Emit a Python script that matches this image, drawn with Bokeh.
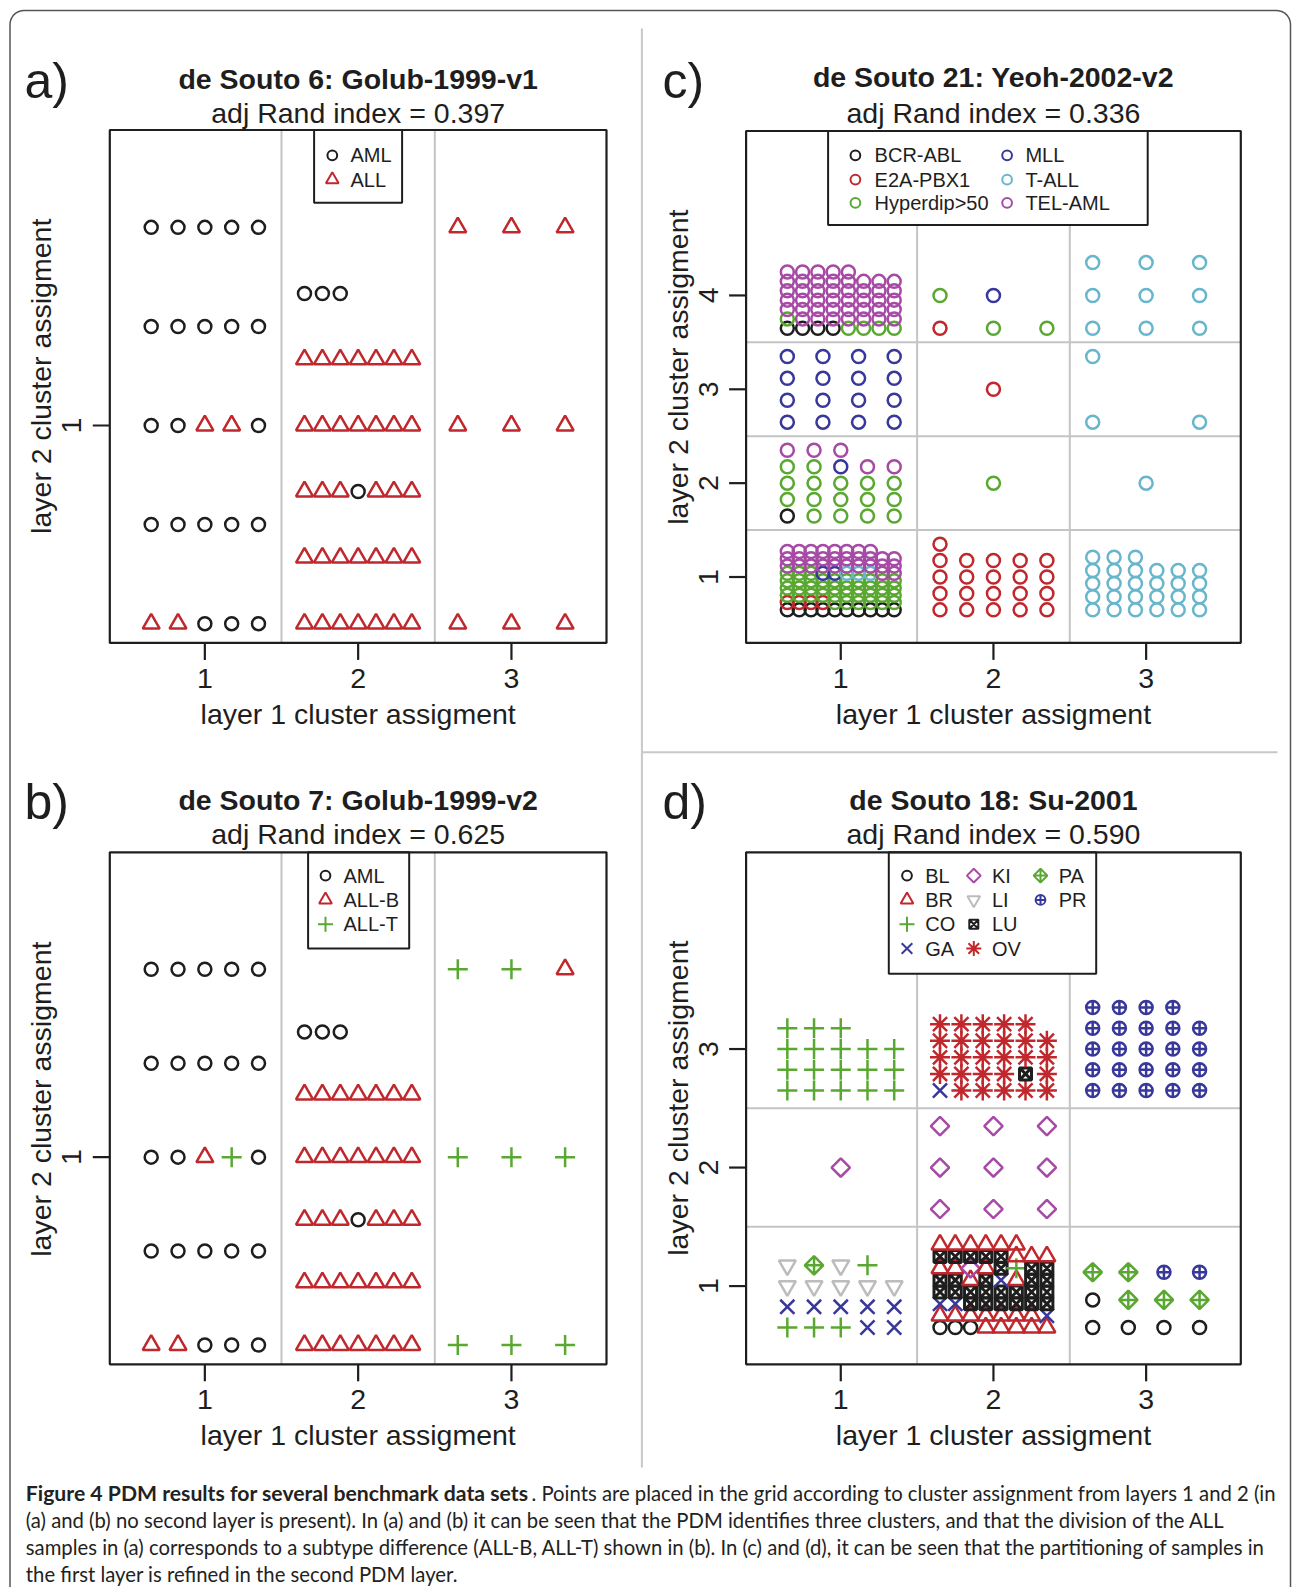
import math
from bokeh.plotting import figure
from bokeh.models import Range1d, ColumnDataSource
from bokeh.core.properties import value
from bokeh.embed import file_html
from bokeh.resources import INLINE

# ---------------- data ----------------
# each cell: (layer-1 cluster, layer-2 cluster, runs of samples in plotting order)
a_title = "de Souto 6: Golub-1999-v1"
a_ari = "adj Rand index = 0.397"
a_classes = ["AML", "ALL"]
a_cells = [
    (1, 1, [("ALL", 2), ("AML", 10), ("ALL", 2), ("AML", 11)]),
    (2, 1, [("ALL", 17), ("AML", 1), ("ALL", 17), ("AML", 3)]),
    (3, 1, [("ALL", 9)]),
]

b_title = "de Souto 7: Golub-1999-v2"
b_ari = "adj Rand index = 0.625"
b_classes = ["AML", "ALL-B", "ALL-T"]
b_cells = [
    (1, 1, [("ALL-B", 2), ("AML", 10), ("ALL-B", 1), ("ALL-T", 1), ("AML", 11)]),
    (2, 1, [("ALL-B", 17), ("AML", 1), ("ALL-B", 17), ("AML", 3)]),
    (3, 1, [("ALL-T", 8), ("ALL-B", 1)]),
]

c_title = "de Souto 21: Yeoh-2002-v2"
c_ari = "adj Rand index = 0.336"
c_classes = ["BCR-ABL", "E2A-PBX1", "Hyperdip>50", "MLL", "T-ALL", "TEL-AML"]
c_cells = [
    (1, 1, [("BCR-ABL", 10), ("E2A-PBX1", 4), ("Hyperdip>50", 39), ("MLL", 2), ("T-ALL", 3), ("TEL-AML", 30)]),
    (2, 1, [("E2A-PBX1", 21)]),
    (3, 1, [("T-ALL", 27)]),
    (1, 2, [("BCR-ABL", 1), ("Hyperdip>50", 16), ("MLL", 1), ("TEL-AML", 5)]),
    (2, 2, [("Hyperdip>50", 1)]),
    (3, 2, [("T-ALL", 1)]),
    (1, 3, [("MLL", 16)]),
    (2, 3, [("E2A-PBX1", 1)]),
    (3, 3, [("T-ALL", 3)]),
    (1, 4, [("BCR-ABL", 4), ("Hyperdip>50", 5), ("TEL-AML", 44)]),
    (2, 4, [("E2A-PBX1", 1), ("Hyperdip>50", 3), ("MLL", 1)]),
    (3, 4, [("T-ALL", 9)]),
]

d_title = "de Souto 18: Su-2001"
d_ari = "adj Rand index = 0.590"
d_classes = ["BL", "BR", "CO", "GA", "KI", "LI", "LU", "OV", "PA", "PR"]
d_cells = [
    (1, 1, [("CO", 3), ("GA", 7), ("LI", 6), ("PA", 1), ("LI", 1), ("CO", 1)]),
    (2, 1, [("BL", 3), ("BR", 12), ("GA", 3), ("LU", 16), ("BR", 1), ("LU", 1), ("GA", 1),
            ("BR", 1), ("LU", 2), ("BR", 2), ("KI", 1), ("BR", 1), ("LU", 1), ("CO", 1),
            ("LU", 7), ("BR", 9)]),
    (3, 1, [("BL", 5), ("PA", 5), ("PR", 2)]),
    (1, 2, [("KI", 1)]),
    (2, 2, [("KI", 9)]),
    (1, 3, [("CO", 18)]),
    (2, 3, [("GA", 1), ("OV", 9), ("LU", 1), ("OV", 18)]),
    (3, 3, [("PR", 24)]),
]

x_ticks = [1, 2, 3]
a_yticks = [1]
b_yticks = [1]
c_yticks = [1, 2, 3, 4]
d_yticks = [1, 2, 3]

caption_bold = "Figure 4 PDM results for several benchmark data sets"
caption_lines = [
    ". Points are placed in the grid according to cluster assignment from layers 1 and 2 (in",
    "(a) and (b) no second layer is present). In (a) and (b) it can be seen that the PDM identifies three clusters, and that the division of the ALL",
    "samples in (a) corresponds to a subtype difference (ALL-B, ALL-T) shown in (b). In (c) and (d), it can be seen that the partitioning of samples in",
    "the first layer is refined in the second PDM layer.",
]

# ---------------- styles ----------------
BLACK = "#1e1e1e"
RED = "#c0282d"
GREEN = "#5aa832"
BLUE = "#38389a"
CYAN = "#68b6cc"
MAGENTA = "#a64aa6"
GREY = "#bcbcbc"
Q = math.pi / 4
# class -> (marker, colour, angle, size)
style_a = {"AML": ("circle", BLACK, 0, 13), "ALL": ("triangle", RED, 0, 17)}
style_b = {"AML": ("circle", BLACK, 0, 13), "ALL-B": ("triangle", RED, 0, 17),
           "ALL-T": ("cross", GREEN, 0, 20)}
style_c = {k: ("circle", col, 0, 13) for k, col in
           zip(c_classes, [BLACK, RED, GREEN, BLUE, CYAN, MAGENTA])}
style_d = {"BL": ("circle", BLACK, 0, 13), "BR": ("triangle", RED, 0, 17),
           "CO": ("cross", GREEN, 0, 20), "GA": ("x", BLUE, 0, 20),
           "KI": ("square", MAGENTA, Q, 13), "LI": ("inverted_triangle", GREY, 0, 17),
           "LU": ("square_x", BLACK, 0, 12), "OV": ("asterisk", RED, 0, 20),
           "PA": ("square_x", GREEN, Q, 13), "PR": ("circle_cross", BLUE, 0, 13)}

W, H = 1292, 1587
FONT = value("Liberation Sans")


def Y(py):
    return H - py


p = figure(width=W, height=H, x_range=Range1d(0, W), y_range=Range1d(0, H),
           output_backend="svg", toolbar_location=None, min_border=0,
           x_axis_location=None, y_axis_location=None,
           outline_line_color=None, background_fill_color="white",
           border_fill_color="white")
p.grid.visible = False

# panel geometry: box in page pixels (left, top, right, bottom) and data limits
panels = {
    "a": dict(box=(109.3, 129.5, 606.0, 642.4), ylim=(0.616, 1.522), cells=a_cells,
              style=style_a, yticks=a_yticks, title=a_title, ari=a_ari, tag="a)",
              ttl=(78.9, 112.3), lab=(24, 80), ylab=(40.5, 375.8), grid_y=[],
              legend=dict(box=(313.6, 129.5, 401.6, 202.3), classes=a_classes, nrow=2,
                          cols=[(331.8, 350)], rows=[154.8, 179.1])),
    "b": dict(box=(109.3, 851.8, 606.0, 1363.8), ylim=(0.614, 1.568), cells=b_cells,
              style=style_b, yticks=b_yticks, title=b_title, ari=b_ari, tag="b)",
              ttl=(799.2, 833.6), lab=(24, 801), ylab=(40.5, 1098.7), grid_y=[],
              legend=dict(box=(307.6, 851.8, 408.7, 948.0), classes=b_classes, nrow=3,
                          cols=[(325.0, 343)], rows=[875.1, 899.4, 923.7])),
    "c": dict(box=(745.6, 130.5, 1240.3, 642.4), ylim=(0.298, 5.752), cells=c_cells,
              style=style_c, yticks=c_yticks, title=c_title, ari=c_ari, tag="c)",
              ttl=(76.9, 112.3), lab=(662, 80), ylab=(677.8, 366.7), grid_y=[1.5, 2.5, 3.5],
              legend=dict(box=(827.6, 130.5, 1147.2, 224.6), classes=c_classes, nrow=3,
                          cols=[(854.9, 874.1), (1006.6, 1024.9)],
                          rows=[154.8, 179.1, 202.3])),
    "d": dict(box=(745.6, 851.8, 1240.3, 1363.8), ylim=(0.34, 4.66), cells=d_cells,
              style=style_d, yticks=d_yticks, title=d_title, ari=d_ari, tag="d)",
              ttl=(799.2, 833.6), lab=(662, 801), ylab=(677.8, 1097.7), grid_y=[1.5, 2.5],
              legend=dict(box=(888.3, 851.8, 1095.7, 973.3), classes=d_classes, nrow=4,
                          cols=[(906.5, 924.7), (973.3, 991.5), (1040.0, 1058.2)],
                          rows=[875.1, 899.4, 923.7, 948.0])),
}
XLIM = (0.38, 3.62)
JIT = 0.35


def layout(cx, cy, runs):
    seq = [cls for cls, n in runs for _ in range(n)]
    k = math.ceil(math.sqrt(len(seq)))
    if k == 1:
        return [(cx, cy, seq[0])]
    step = 2 * JIT / (k - 1)
    out = []
    for i, cls in enumerate(seq):
        r, c = divmod(i, k)
        out.append((cx - JIT + c * step, cy - JIT + r * step, cls))
    return out


for key, g in panels.items():
    L, T, R, B = g["box"]
    x0, x1 = XLIM
    y0, y1 = g["ylim"]
    sx = (x1 - x0) / (R - L)
    sy = (y1 - y0) / (B - T)
    xr, yr = "x" + key, "y" + key
    p.extra_x_ranges[xr] = Range1d(x0 - L * sx, x0 + (W - L) * sx)
    p.extra_y_ranges[yr] = Range1d(y0 + (B - H) * sy, y0 + B * sy)

    # cell grid lines
    p.segment(x0=[1.5, 2.5], x1=[1.5, 2.5], y0=[y0, y0], y1=[y1, y1],
              x_range_name=xr, y_range_name=yr, line_color="#c4c4c4", line_width=2)
    if g["grid_y"]:
        n = len(g["grid_y"])
        p.segment(x0=[x0] * n, x1=[x1] * n, y0=g["grid_y"], y1=g["grid_y"],
                  x_range_name=xr, y_range_name=yr, line_color="#c4c4c4", line_width=2)

    # points
    pts = []
    for cx, cy, runs in g["cells"]:
        pts += layout(cx, cy, runs)
    st = g["style"]
    src = ColumnDataSource(dict(
        x=[q[0] for q in pts], y=[q[1] for q in pts],
        marker=[st[q[2]][0] for q in pts], color=[st[q[2]][1] for q in pts],
        angle=[st[q[2]][2] for q in pts], size=[st[q[2]][3] for q in pts],
        lw=[3.0 if q[2] == "LU" else 2.5 for q in pts]))
    p.scatter(x="x", y="y", marker="marker", size="size", angle="angle",
              line_color="color", fill_color=None, line_width="lw", source=src,
              x_range_name=xr, y_range_name=yr)

    # legend
    lg = g["legend"]
    lL, lT, lR, lB = lg["box"]
    p.quad(left=lL, right=lR, top=Y(lT), bottom=Y(lB), fill_color="white",
           line_color=BLACK, line_width=2)
    lx, ly, lm, lc, la, ls, tx, tt = [], [], [], [], [], [], [], []
    for i, cls in enumerate(lg["classes"]):
        col, row = divmod(i, lg["nrow"])
        sxp, txp = lg["cols"][col]
        m, colr, ang, sz = st[cls]
        lx.append(sxp); ly.append(Y(lg["rows"][row])); lm.append(m); lc.append(colr)
        la.append(ang); ls.append(sz * 0.75)
        tx.append(txp); tt.append(cls)
    p.scatter(x=lx, y=ly, marker=lm, line_color=lc, angle=la, size=ls,
              fill_color=None, line_width=2)
    p.text(x=tx, y=ly, text=tt, text_font=FONT, text_font_size="20px",
           text_align="left", text_baseline="middle", text_color=BLACK)

    # plot box
    p.quad(left=L, right=R, top=Y(T), bottom=Y(B), fill_color=None,
           line_color=BLACK, line_width=2.2)

    # x axis
    n = len(x_ticks)
    p.segment(x0=x_ticks, x1=x_ticks, y0=[Y(B)] * n, y1=[Y(B + 17)] * n,
              x_range_name=xr, line_color=BLACK, line_width=2.2)
    p.text(x=x_ticks, y=[Y(B + 35.4)] * n, text=[str(t) for t in x_ticks],
           x_range_name=xr, text_font=FONT, text_font_size="28.5px",
           text_align="center", text_baseline="middle", text_color=BLACK)
    p.text(x=[(L + R) / 2], y=[Y(B + 70.8)], text=["layer 1 cluster assigment"],
           text_font=FONT, text_font_size="28.5px", text_align="center",
           text_baseline="middle", text_color=BLACK)

    # y axis
    yt = g["yticks"]
    n = len(yt)
    p.segment(x0=[L] * n, x1=[L - 17] * n, y0=yt, y1=yt, y_range_name=yr,
              line_color=BLACK, line_width=2.2)
    p.text(x=[L - 38] * n, y=yt, text=[str(t) for t in yt], y_range_name=yr,
           angle=math.pi / 2, text_font=FONT, text_font_size="28.5px",
           text_align="center", text_baseline="middle", text_color=BLACK)
    p.text(x=[g["ylab"][0]], y=[Y(g["ylab"][1])], text=["layer 2 cluster assigment"],
           angle=math.pi / 2, text_font=FONT, text_font_size="28.5px",
           text_align="center", text_baseline="middle", text_color=BLACK)

    # titles
    p.text(x=[(L + R) / 2], y=[Y(g["ttl"][0])], text=[g["title"]], text_font=FONT,
           text_font_size="28.5px", text_font_style="bold", text_align="center",
           text_baseline="middle", text_color=BLACK)
    p.text(x=[(L + R) / 2], y=[Y(g["ttl"][1])], text=[g["ari"]], text_font=FONT,
           text_font_size="28.5px", text_align="center",
           text_baseline="middle", text_color=BLACK)
    p.text(x=[g["lab"][0]], y=[Y(g["lab"][1])], text=[g["tag"]], text_font=FONT,
           text_font_size="50px", text_align="left", text_baseline="middle",
           text_color=BLACK)

# separators
p.segment(x0=[641.4, 641.4], y0=[Y(28), Y(751.7)], x1=[641.4, 1277],
          y1=[Y(1467), Y(751.7)], line_color="#c8c8c8", line_width=2)

# outer rounded border
rad, bl, bt, br, bb = 14, 9.5, 10.0, 1290.0, 1600.0
xs, ys = [bl], [Y(bb)]
for k in range(0, 11):
    t = math.pi - k * (math.pi / 2) / 10
    xs.append(bl + rad + rad * math.cos(t)); ys.append(Y(bt + rad - rad * math.sin(t)))
for k in range(0, 11):
    t = math.pi / 2 - k * (math.pi / 2) / 10
    xs.append(br - rad + rad * math.cos(t)); ys.append(Y(bt + rad - rad * math.sin(t)))
xs.append(br); ys.append(Y(bb))
p.line(xs, ys, line_color="#555555", line_width=1.5)

# caption
CAP = value("Lato")
cap_y = [1492.2, 1519.5, 1546.9, 1573.2]
p.text(x=[25.3], y=[Y(cap_y[0])], text=[caption_bold], text_font=CAP,
       text_font_size="21.2px", text_font_style="bold", text_align="left",
       text_baseline="middle", text_color="#222222")
p.text(x=[531.0, 25.3, 25.3, 25.3], y=[Y(v) for v in cap_y], text=caption_lines,
       text_font=CAP, text_font_size="20.3px", text_align="left",
       text_baseline="middle", text_color="#222222")

open("out.html", "w").write(file_html(p, INLINE))
